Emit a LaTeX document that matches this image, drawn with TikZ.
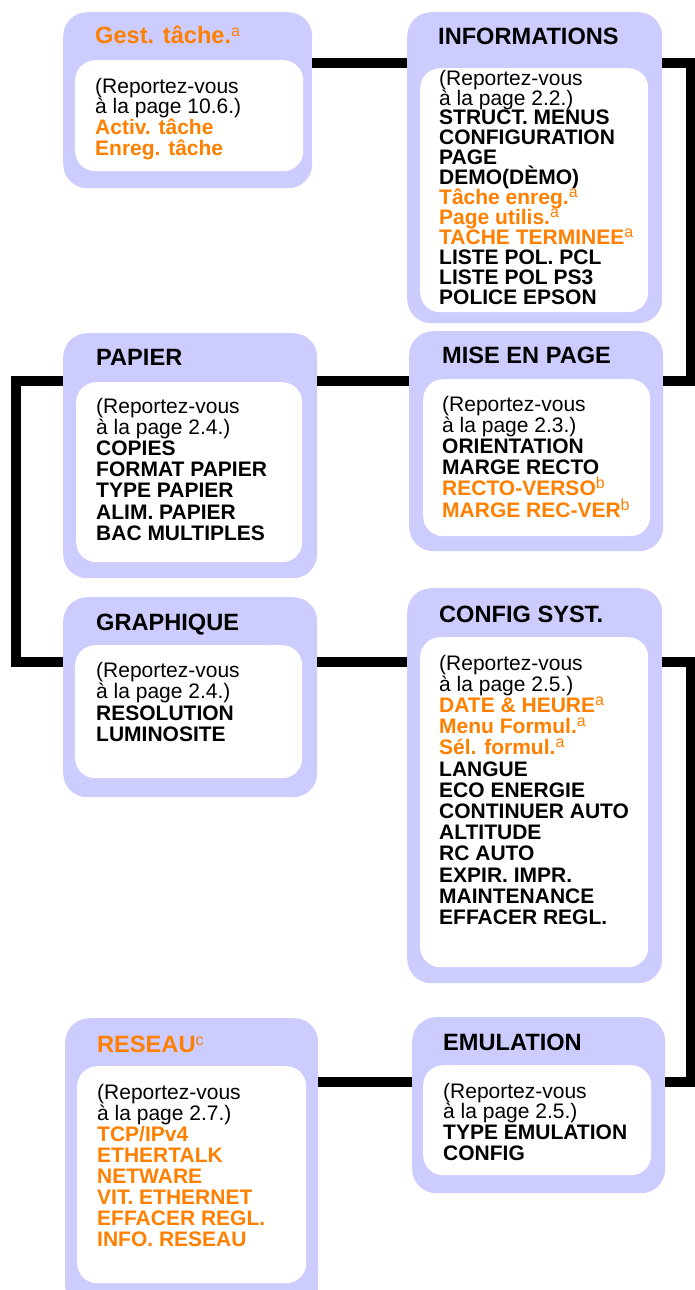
\documentclass[tikz,border=0pt]{standalone}
\usepackage{fontspec}
\setmainfont{Liberation Sans}
\definecolor{lav}{RGB}{204,204,255}
\definecolor{org}{RGB}{255,128,0}
\newcommand\fnm[1]{\raisebox{7pt}{\fontsize{16}{16}\selectfont\mdseries #1}}
\newcommand\og[1]{\textcolor{org}{#1}}
\tikzset{
  outerbox/.style={fill=lav, draw=none, rounded corners=24pt, inner sep=0pt, anchor=north west},
  innerbox/.style={fill=white, draw=none, rounded corners=20pt, inner sep=0pt, anchor=north west},
  ttl/.style={font=\bfseries\fontsize{23.6}{24}\selectfont, anchor=base west, inner sep=0pt},
  body/.style={font=\fontsize{21}{#1}\selectfont, align=left, anchor=north west, inner sep=0pt},
  body/.default=21.2,
  conn/.style={line width=10pt, draw=black, line join=miter},
}
\begin{document}
\setlength{\lineskiplimit}{-50pt}
\begin{tikzpicture}[x=1pt,y=-1pt]
\useasboundingbox (0,0) rectangle (694,1290);
% Gest. tache
\node[outerbox, minimum width=249pt, minimum height=176pt] (gest) at (63,12) {};
\node[innerbox, minimum width=228pt, minimum height=111pt] (gesti) at (75,60) {};
\node[ttl, text=org] (gestt) at (95,44) {Gest. tâche.\fnm{a}};
\node[body=20.7] (gestb) at (95,77.7) {(Reportez-vous\\à la page 10.6.)\\\og{\textbf{Activ. tâche}}\\\og{\textbf{Enreg. tâche}}};
% INFORMATIONS
\node[outerbox, minimum width=255pt, minimum height=311pt] (info) at (407,12) {};
\node[innerbox, minimum width=228pt, minimum height=244pt] (infoi) at (420,68) {};
\node[ttl] (infot) at (438,45) {INFORMATIONS};
\node[body=19.9] (infob) at (439,69.7) {(Reportez-vous\\à la page 2.2.)\\\textbf{STRUCT. MENUS}\\\textbf{CONFIGURATION}\\\textbf{PAGE}\\\textbf{DEMO(DÈMO)}\\\og{\textbf{Tâche enreg.}\fnm{a}}\\\og{\textbf{Page utilis.}\fnm{a}}\\\og{\textbf{TACHE TERMINEE}\fnm{a}}\\\textbf{LISTE POL. PCL}\\\textbf{LISTE POL PS3}\\\textbf{POLICE EPSON}};
% PAPIER
\node[outerbox, minimum width=254pt, minimum height=245pt] (papier) at (63,333) {};
\node[innerbox, minimum width=226pt, minimum height=180pt] (papieri) at (76,382) {};
\node[ttl] (papiert) at (96,365) {PAPIER};
\node[body=21.2] (papierb) at (96,397.7) {(Reportez-vous\\à la page 2.4.)\\\textbf{COPIES}\\\textbf{FORMAT PAPIER}\\\textbf{TYPE PAPIER}\\\textbf{ALIM. PAPIER}\\\textbf{BAC MULTIPLES}};
% MISE EN PAGE
\node[outerbox, minimum width=254pt, minimum height=220pt] (mise) at (409,331) {};
\node[innerbox, minimum width=227pt, minimum height=157pt] (misei) at (423,379) {};
\node[ttl] (miset) at (442,363) {MISE EN PAGE};
\node[body=21.2] (miseb) at (442,395.7) {(Reportez-vous\\à la page 2.3.)\\\textbf{ORIENTATION}\\\textbf{MARGE RECTO}\\\og{\textbf{RECTO-VERSO}\fnm{b}}\\\og{\textbf{MARGE REC-VER}\fnm{b}}};
% GRAPHIQUE
\node[outerbox, minimum width=254pt, minimum height=200pt] (graph) at (63,597) {};
\node[innerbox, minimum width=227pt, minimum height=133pt] (graphi) at (75,645) {};
\node[ttl] (grapht) at (96,630) {GRAPHIQUE};
\node[body=21.5] (graphb) at (96,661.7) {(Reportez-vous\\à la page 2.4.)\\\textbf{RESOLUTION}\\\textbf{LUMINOSITE}};
% CONFIG SYST.
\node[outerbox, minimum width=255pt, minimum height=395pt] (config) at (407,588) {};
\node[innerbox, minimum width=228pt, minimum height=330pt] (configi) at (420,637) {};
\node[ttl] (configt) at (439,622) {CONFIG SYST.};
\node[body=21.2] (configb) at (439,654.7) {(Reportez-vous\\à la page 2.5.)\\\og{\textbf{DATE \& HEURE}\fnm{a}}\\\og{\textbf{Menu Formul.}\fnm{a}}\\\og{\textbf{Sél. formul.}\fnm{a}}\\\textbf{LANGUE}\\\textbf{ECO ENERGIE}\\\textbf{CONTINUER AUTO}\\\textbf{ALTITUDE}\\\textbf{RC AUTO}\\\textbf{EXPIR. IMPR.}\\\textbf{MAINTENANCE}\\\textbf{EFFACER REGL.}};
% EMULATION
\node[outerbox, minimum width=253pt, minimum height=176pt] (emu) at (412,1017) {};
\node[innerbox, minimum width=228pt, minimum height=110pt] (emui) at (423,1065) {};
\node[ttl] (emut) at (443,1050) {EMULATION};
\node[body=20.7] (emub) at (443,1082.7) {(Reportez-vous\\à la page 2.5.)\\\textbf{TYPE EMULATION}\\\textbf{CONFIG}};
% RESEAU
\node[outerbox, minimum width=253pt, minimum height=292pt] (reseau) at (65,1018) {};
\node[innerbox, minimum width=229pt, minimum height=217pt] (reseaui) at (77,1066) {};
\node[ttl, text=org] (reseaut) at (97,1052) {RESEAU\fnm{c}};
\node[body=21.1] (reseaub) at (97,1083.7) {(Reportez-vous\\à la page 2.7.)\\\og{\textbf{TCP/IPv4}}\\\og{\textbf{ETHERTALK}}\\\og{\textbf{NETWARE}}\\\og{\textbf{VIT. ETHERNET}}\\\og{\textbf{EFFACER REGL.}}\\\og{\textbf{INFO. RESEAU}}};
% connectors
\coordinate (xr) at (691,0);
\coordinate (xl) at (15.5,0);
\coordinate (r1) at (0,63);
\coordinate (r2) at (0,380.5);
\coordinate (r3) at (0,661.5);
\coordinate (r4) at (0,1082);
\draw[conn] (gest.east |- r1) -- (info.west |- r1);
\draw[conn] (info.east |- r1) -| (xr |- r2) -- (mise.east |- r2);
\draw[conn] (mise.west |- r2) -- (papier.east |- r2);
\draw[conn] (papier.west |- r2) -| (xl |- r3) -- (graph.west |- r3);
\draw[conn] (graph.east |- r3) -- (config.west |- r3);
\draw[conn] (config.east |- r3) -| (xr |- r4) -- (emu.east |- r4);
\draw[conn] (emu.west |- r4) -- (reseau.east |- r4);
\end{tikzpicture}
\end{document}
